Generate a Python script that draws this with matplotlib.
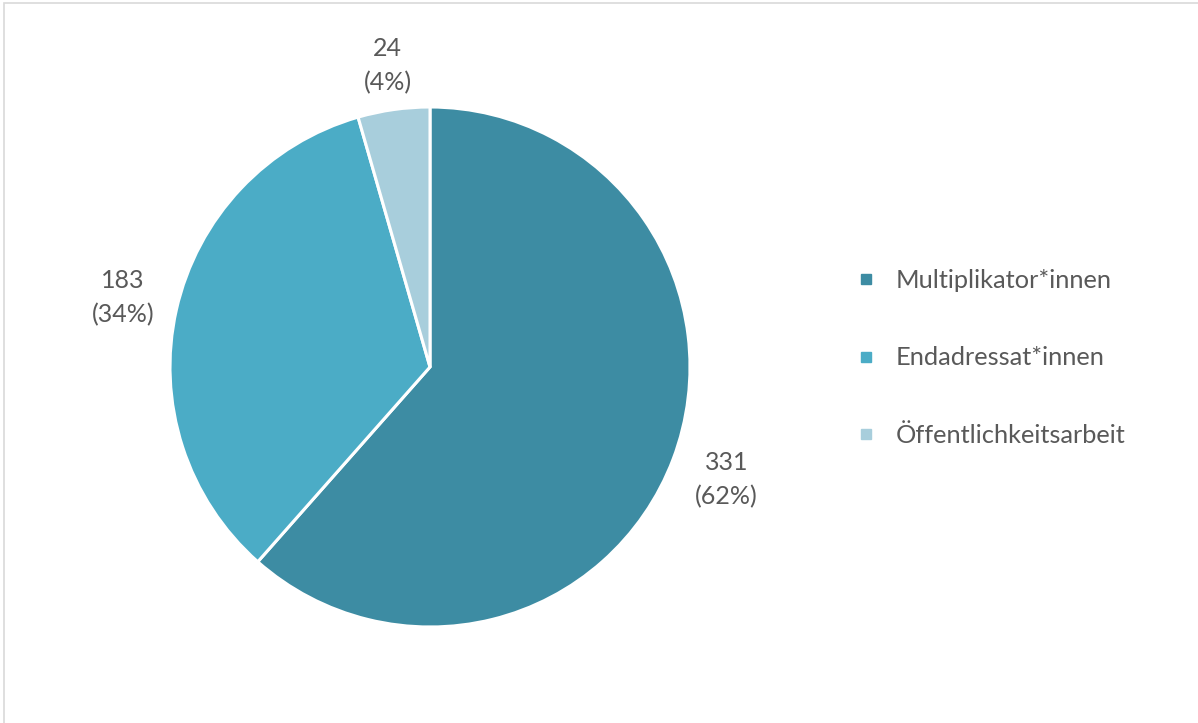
import numpy as np
import matplotlib.pyplot as plt
from matplotlib.lines import Line2D
from matplotlib.patches import Rectangle

categories = ["Multiplikator*innen", "Endadressat*innen", "Öffentlichkeitsarbeit"]
counts = [331, 183, 24]
percents = ["62%", "34%", "4%"]
colors = ["#3D8CA3", "#4BACC6", "#A8CEDC"]

plt.rcParams['font.family'] = ['Lato', 'DejaVu Sans']

fig = plt.figure(figsize=(11.98, 7.23), dpi=100)
W, H = 1198, 723
ax = fig.add_axes([170 / W, 96 / H, 520 / W, 520 / H])

wedges, _ = ax.pie(counts, colors=colors, startangle=90, counterclock=False,
                   wedgeprops=dict(edgecolor="white", linewidth=2.2))

# data labels outside each wedge
dists = [1.22, 1.21, 1.17]
for w, c, p, d in zip(wedges, counts, percents, dists):
    ang = np.deg2rad((w.theta1 + w.theta2) / 2)
    ax.text(d * np.cos(ang), d * np.sin(ang), f"{c}\n({p})", ha="center", va="center",
            color="#595959", fontsize=18, linespacing=1.55)

ax.set_xlim(-1, 1)
ax.set_ylim(-1, 1)
ax.set_aspect("equal")

handles = [Line2D([], [], marker="s", linestyle="none", markersize=7,
                  markerfacecolor=c, markeredgecolor=c) for c in colors]
fig.legend(handles, categories, loc="center left", bbox_to_anchor=(832 / W, 1 - 358 / H),
           frameon=False, labelspacing=2.15, handletextpad=0.7, handlelength=0.9,
           prop=dict(size=18.3), labelcolor="#595959")

# light frame around the chart area
fig.patches.append(Rectangle((4 / W, -0.1), 1.2, (723 - 3) / H + 0.1, transform=fig.transFigure,
                             fill=False, edgecolor="#D9D9D9", linewidth=1.2))

fig.savefig("out.png", dpi=100, facecolor="white")
